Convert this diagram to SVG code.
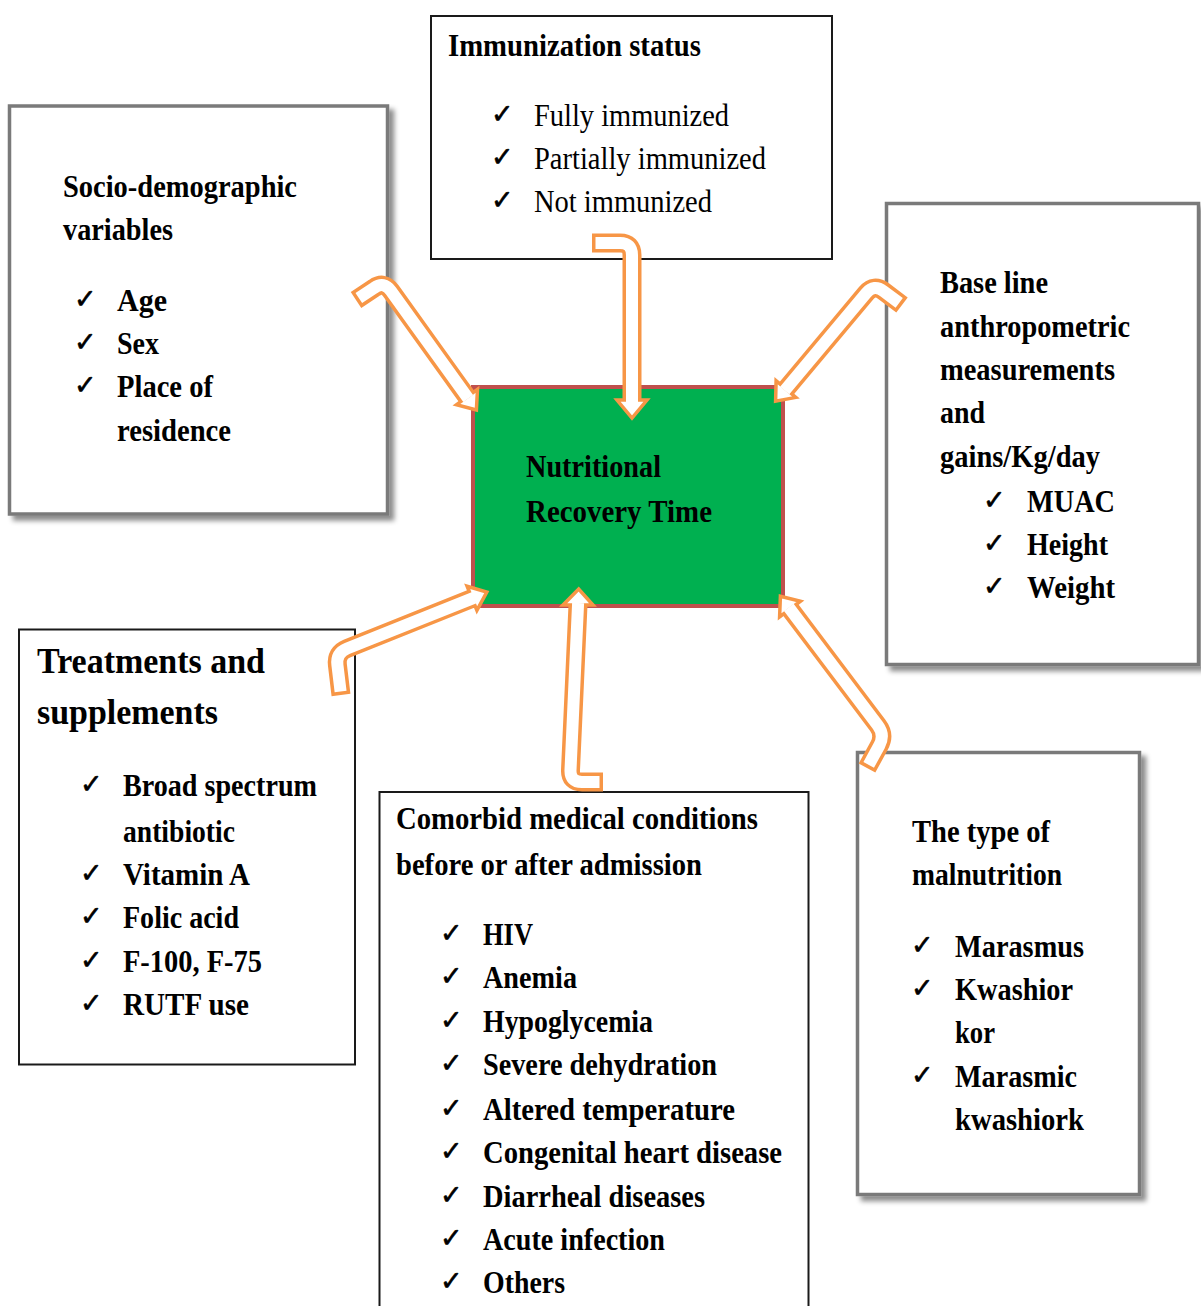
<svg xmlns="http://www.w3.org/2000/svg" width="1201" height="1306" viewBox="0 0 1201 1306">
<style>
.t{font-family:"Liberation Serif","Times New Roman",serif;font-weight:bold;font-size:32px;fill:#000}
.r{font-weight:normal}
.ck{font-family:"DejaVu Sans",sans-serif;font-size:27px;fill:#000;stroke:#000;stroke-width:0.6}
.gbox{fill:#fff;stroke:#7a7a7a;stroke-width:3.5}
.bbox{fill:#fff;stroke:#1a1a1a;stroke-width:2}
.so{fill:none;stroke:#f79646;stroke-width:19;stroke-linejoin:round}
.si{fill:none;stroke:#fff;stroke-width:12;stroke-linejoin:round}
.hd{fill:#fff;stroke:#f79646;stroke-width:3.5;stroke-linejoin:miter}
</style>
<defs>
<filter id="sh" x="-10%" y="-10%" width="125%" height="125%">
<feDropShadow dx="5" dy="5" stdDeviation="2.5" flood-color="#000" flood-opacity="0.45"/>
</filter>
</defs>
<rect width="1201" height="1306" fill="#fff"/>

<g id="socio">
<rect class="gbox" x="9.5" y="106" width="378" height="408" filter="url(#sh)"/>
<text class="t" x="63" y="197" textLength="234" lengthAdjust="spacingAndGlyphs">Socio-demographic</text>
<text class="t" x="63" y="240" textLength="110" lengthAdjust="spacingAndGlyphs">variables</text>
<text class="ck" x="74" y="308">✓</text>
<text class="t" x="117" y="311" textLength="50" lengthAdjust="spacingAndGlyphs">Age</text>
<text class="ck" x="74" y="351">✓</text>
<text class="t" x="117" y="354" textLength="42" lengthAdjust="spacingAndGlyphs">Sex</text>
<text class="ck" x="74" y="394">✓</text>
<text class="t" x="117" y="397" textLength="96" lengthAdjust="spacingAndGlyphs">Place of</text>
<text class="t" x="117" y="441" textLength="114" lengthAdjust="spacingAndGlyphs">residence</text>
</g>

<g id="immunization">
<rect class="bbox" x="431" y="16" width="401" height="243"/>
<text class="t" x="448" y="56" textLength="253" lengthAdjust="spacingAndGlyphs">Immunization  status</text>
<text class="ck" x="491" y="123">✓</text>
<text class="t r" x="534" y="126" textLength="195" lengthAdjust="spacingAndGlyphs">Fully immunized</text>
<text class="ck" x="491" y="166">✓</text>
<text class="t r" x="534" y="169" textLength="232" lengthAdjust="spacingAndGlyphs">Partially immunized</text>
<text class="ck" x="491" y="209">✓</text>
<text class="t r" x="534" y="212" textLength="178" lengthAdjust="spacingAndGlyphs">Not immunized</text>
</g>

<g id="baseline">
<rect class="gbox" x="886.5" y="203.5" width="312" height="461" filter="url(#sh)"/>
<text class="t" x="940" y="293" textLength="108" lengthAdjust="spacingAndGlyphs">Base line</text>
<text class="t" x="940" y="337" textLength="190" lengthAdjust="spacingAndGlyphs">anthropometric</text>
<text class="t" x="940" y="380" textLength="175" lengthAdjust="spacingAndGlyphs">measurements</text>
<text class="t" x="940" y="423" textLength="45" lengthAdjust="spacingAndGlyphs">and</text>
<text class="t" x="940" y="467" textLength="160" lengthAdjust="spacingAndGlyphs">gains/Kg/day</text>
<text class="ck" x="983" y="509">✓</text>
<text class="t" x="1027" y="512" textLength="88" lengthAdjust="spacingAndGlyphs">MUAC</text>
<text class="ck" x="983" y="552">✓</text>
<text class="t" x="1027" y="555" textLength="81" lengthAdjust="spacingAndGlyphs">Height</text>
<text class="ck" x="983" y="595">✓</text>
<text class="t" x="1027" y="598" textLength="88" lengthAdjust="spacingAndGlyphs">Weight</text>
</g>

<g id="treatments">
<rect class="bbox" x="19" y="629.5" width="336" height="435"/>
<text class="t" style="font-size:35px" x="37" y="673" textLength="228" lengthAdjust="spacingAndGlyphs">Treatments and</text>
<text class="t" style="font-size:35px" x="37" y="724" textLength="181" lengthAdjust="spacingAndGlyphs">supplements</text>
<text class="ck" x="80" y="793">✓</text>
<text class="t" x="123" y="796" textLength="194" lengthAdjust="spacingAndGlyphs">Broad spectrum</text>
<text class="t" x="123" y="842" textLength="112" lengthAdjust="spacingAndGlyphs">antibiotic</text>
<text class="ck" x="80" y="882">✓</text>
<text class="t" x="123" y="885" textLength="127" lengthAdjust="spacingAndGlyphs">Vitamin  A</text>
<text class="ck" x="80" y="925">✓</text>
<text class="t" x="123" y="928" textLength="116" lengthAdjust="spacingAndGlyphs">Folic acid</text>
<text class="ck" x="80" y="969">✓</text>
<text class="t" x="123" y="972" textLength="139" lengthAdjust="spacingAndGlyphs">F-100, F-75</text>
<text class="ck" x="80" y="1012">✓</text>
<text class="t" x="123" y="1015" textLength="126" lengthAdjust="spacingAndGlyphs">RUTF use</text>
</g>

<g id="comorbid">
<rect class="bbox" x="379.5" y="792" width="429" height="540"/>
<text class="t" x="396" y="829" textLength="362" lengthAdjust="spacingAndGlyphs">Comorbid medical conditions</text>
<text class="t" x="396" y="875" textLength="306" lengthAdjust="spacingAndGlyphs">before or after admission</text>
<text class="ck" x="440" y="942">✓</text>
<text class="t" x="483" y="945" textLength="50" lengthAdjust="spacingAndGlyphs">HIV</text>
<text class="ck" x="440" y="985">✓</text>
<text class="t" x="483" y="988" textLength="94" lengthAdjust="spacingAndGlyphs">Anemia</text>
<text class="ck" x="440" y="1029">✓</text>
<text class="t" x="483" y="1032" textLength="170" lengthAdjust="spacingAndGlyphs">Hypoglycemia</text>
<text class="ck" x="440" y="1072">✓</text>
<text class="t" x="483" y="1075" textLength="234" lengthAdjust="spacingAndGlyphs">Severe dehydration</text>
<text class="ck" x="440" y="1117">✓</text>
<text class="t" x="483" y="1120" textLength="252" lengthAdjust="spacingAndGlyphs">Altered temperature</text>
<text class="ck" x="440" y="1160">✓</text>
<text class="t" x="483" y="1163" textLength="299" lengthAdjust="spacingAndGlyphs">Congenital heart disease</text>
<text class="ck" x="440" y="1204">✓</text>
<text class="t" x="483" y="1207" textLength="222" lengthAdjust="spacingAndGlyphs">Diarrheal diseases</text>
<text class="ck" x="440" y="1247">✓</text>
<text class="t" x="483" y="1250" textLength="182" lengthAdjust="spacingAndGlyphs">Acute infection</text>
<text class="ck" x="440" y="1290">✓</text>
<text class="t" x="483" y="1293" textLength="82" lengthAdjust="spacingAndGlyphs">Others</text>
</g>

<g id="malnutrition">
<rect class="gbox" x="857.5" y="752.5" width="282" height="442" filter="url(#sh)"/>
<text class="t" x="912" y="842" textLength="138" lengthAdjust="spacingAndGlyphs">The type of</text>
<text class="t" x="912" y="885" textLength="150" lengthAdjust="spacingAndGlyphs">malnutrition</text>
<text class="ck" x="911" y="954">✓</text>
<text class="t" x="955" y="957" textLength="129" lengthAdjust="spacingAndGlyphs">Marasmus</text>
<text class="ck" x="911" y="997">✓</text>
<text class="t" x="955" y="1000" textLength="118" lengthAdjust="spacingAndGlyphs">Kwashior</text>
<text class="t" x="955" y="1043" textLength="40" lengthAdjust="spacingAndGlyphs">kor</text>
<text class="ck" x="911" y="1084">✓</text>
<text class="t" x="955" y="1087" textLength="122" lengthAdjust="spacingAndGlyphs">Marasmic</text>
<text class="t" x="955" y="1130" textLength="129" lengthAdjust="spacingAndGlyphs">kwashiork</text>
</g>

<g id="center">
<rect x="473" y="387" width="310" height="219" fill="#00b050" stroke="#c0504d" stroke-width="4"/>
<text class="t" x="526" y="477" textLength="135" lengthAdjust="spacingAndGlyphs">Nutritional</text>
<text class="t" x="526" y="522" textLength="186" lengthAdjust="spacingAndGlyphs">Recovery Time</text>
</g>

<g id="connectors">
<path class="so" d="M356,300 L374,288 Q384,281 391,291 L467,397"/>
<polygon class="hd" points="477.5,389.3 476.4,409.9 456.5,404.7"/>
<path class="si" d="M358.8,298.1 L374,288 Q384,281 391,291 L468.2,398.6"/>
<path class="so" d="M592,243 L620,243 Q632,243 632,255 L632,400"/>
<polygon class="hd" points="617,400 647,400 632,418"/>
<path class="si" d="M595.5,243 L620,243 Q632,243 632,255 L632,402"/>
<path class="so" d="M902,305 L883.6,291.2 Q874,284 866.2,293.1 L786,389"/>
<polygon class="hd" points="795.9,397.4 775.6,401.2 776.1,380.6"/>
<path class="si" d="M899.2,302.9 L883.6,291.2 Q874,284 866.2,293.1 L784.7,390.5"/>
<path class="so" d="M341,695 L337.4,664.9 Q336,653 347.1,648.5 L472.5,598.3"/>
<polygon class="hd" points="476.9,610.4 486.8,592 467.1,586.2"/>
<path class="si" d="M340.6,691.5 L337.4,664.9 Q336,653 347.1,648.5 L474.4,597.6"/>
<path class="so" d="M603,782 L582,782 Q570,782 570.5,770 L578,605"/>
<polygon class="hd" points="563,605 578.7,589 593,605"/>
<path class="si" d="M599.5,782 L582,782 Q570,782 570.5,770 L578.1,603"/>
<path class="so" d="M867,768 L879.3,745.5 Q885,735 877.8,725.4 L790,609"/>
<polygon class="hd" points="800.4,601.2 780.4,596.2 779.6,616.8"/>
<path class="si" d="M868.7,764.9 L879.3,745.5 Q885,735 877.8,725.4 L788.8,607.4"/>
</g>
</svg>
